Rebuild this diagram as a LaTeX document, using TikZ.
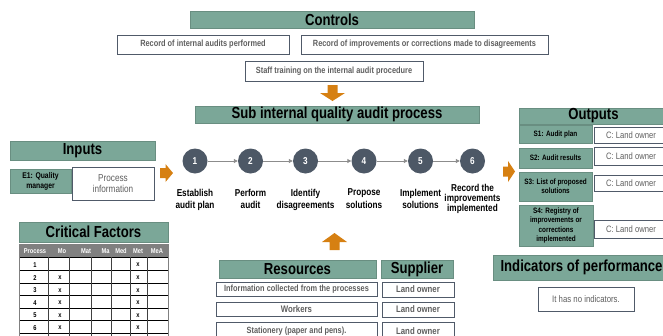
\documentclass[tikz,border=0pt]{standalone}
\usepackage{fontspec}
\setmainfont{Liberation Sans}[FakeStretch=0.82]
\usetikzlibrary{arrows.meta}
\definecolor{hdr}{RGB}{123,167,152}
\definecolor{bline}{RGB}{80,90,105}
\definecolor{txtg}{RGB}{95,95,95}
\definecolor{circ}{RGB}{77,88,102}
\definecolor{org}{RGB}{214,128,18}
\definecolor{thg}{RGB}{128,128,128}
\newcommand{\rbox}[7]{%
 \pgfmathsetmacro{\rbw}{#4-#2}\pgfmathsetmacro{\rbh}{#5-#3}%
 \pgfmathsetmacro{\rbx}{(#2+#4)/2}\pgfmathsetmacro{\rby}{(#3+#5)/2}%
 \node[#6, minimum width=\rbw pt, minimum height=\rbh pt] (#1) at (\rbx,\rby) {#7};}
\begin{document}
\begin{tikzpicture}[x=1pt,y=-1pt,
 hdrbox/.style={fill=hdr, draw=hdr!85!black, line width=0.4pt, inner sep=0pt, font=\fontsize{16}{17}\selectfont\bfseries},
 subbox/.style={fill=hdr, draw=hdr!85!black, line width=0.4pt, inner sep=0pt, align=center, font=\fontsize{7.8}{9.3}\selectfont\bfseries},
 wbox/.style={fill=white, draw=bline, line width=0.8pt, inner sep=0pt, align=center, text=txtg, font=\fontsize{9}{10}\selectfont\bfseries},
 cbox/.style={wbox, font=\fontsize{9.3}{10}\selectfont},
 stepc/.style={circle, fill=circ, minimum size=25pt, inner sep=0pt, text=white, font=\fontsize{10}{11}\selectfont\bfseries},
 steplbl/.style={anchor=north, align=center, inner sep=0pt, font=\fontsize{10}{12.5}\selectfont\bfseries},
 conn/.style={draw=gray!90, line width=0.9pt, -{Triangle[length=4pt,width=4pt]}},
 tcell/.style={inner sep=0pt, font=\fontsize{7}{7.5}\selectfont\bfseries},
 thead/.style={tcell, text=white},
]
\useasboundingbox (0,0) rectangle (663,335);

% Controls
\rbox{ctlh}{190}{11}{474}{28}{hdrbox}{Controls}
\rbox{ctl1}{117}{35}{289}{54}{wbox}{Record of internal audits performed}
\rbox{ctl2}{301}{35}{548}{54}{wbox}{Record of improvements or corrections made to disagreements}
\rbox{ctl3}{245}{61}{423}{81}{wbox}{Staff training on the internal audit procedure}
\fill[org] (327.5,85) -- (337.5,85) -- (337.5,93) -- (345,93) -- (332.5,101) -- (320,93) -- (327.5,93) -- cycle;

% Sub process
\rbox{subh}{195}{106}{479}{123}{hdrbox}{Sub internal quality audit process}

% Inputs
\rbox{inh}{10}{141}{155}{160}{hdrbox}{Inputs}
\rbox{e1}{10}{169}{71}{193}{subbox, font=\fontsize{8.3}{10}\selectfont\bfseries}{E1: Quality\\manager}
\rbox{pinf}{72}{167}{154}{200}{wbox, font=\fontsize{10}{11.5}\selectfont}{Process\\information}
\fill[org] (160,168) -- (165.5,168) -- (165.5,164) -- (173,173) -- (165.5,182) -- (165.5,178) -- (160,178) -- cycle;

% Steps
\node[stepc] (c1) at (195,161) {1};
\node[stepc] (c2) at (250.5,161) {2};
\node[stepc] (c3) at (305.5,161) {3};
\node[stepc] (c4) at (364,161) {4};
\node[stepc] (c5) at (420.5,161) {5};
\node[stepc] (c6) at (472.5,161) {6};
\draw[conn] (c1) -- (c2);
\draw[conn] (c2) -- (c3);
\draw[conn] (c3) -- (c4);
\draw[conn] (c4) -- (c5);
\draw[conn] (c5) -- (c6);
\node[steplbl] (l1) at (195,188.7) {Establish\\audit plan};
\node[steplbl] (l2) at (250.5,188.7) {Perform\\audit};
\node[steplbl] (l3) at (305.5,188.7) {Identify\\disagreements};
\node[steplbl] (l4) at (364,188.7) {Propose\\solutions};
\node[steplbl] (l5) at (420.5,188.7) {Implement\\solutions};
\node[steplbl, font=\fontsize{10}{10.3}\selectfont\bfseries] (l6) at (472.5,183.7) {Record the\\improvements\\implemented};

% Outputs
\fill[org] (503,166.5) -- (508,166.5) -- (508,161) -- (515,171.5) -- (508,182) -- (508,176.5) -- (503,176.5) -- cycle;
\rbox{outh}{519}{108}{668}{124}{hdrbox}{Outputs}
\rbox{s1}{519}{125}{592}{143}{subbox}{S1: Audit plan}
\rbox{o1}{594}{127}{668}{143}{cbox}{C: Land owner}
\rbox{s2}{519}{148}{592}{168}{subbox}{S2: Audit results}
\rbox{o2}{594}{147}{668}{165}{cbox}{C: Land owner}
\rbox{s3}{519}{172}{592}{201}{subbox}{S3: List of proposed\\solutions}
\rbox{o3}{594}{175}{668}{191}{cbox}{C: Land owner}
\rbox{s4}{519}{205}{593}{246}{subbox}{S4: Registry of\\improvements or\\corrections\\implemented}
\rbox{o4}{594}{220}{668}{238}{cbox}{C: Land owner}

% Indicators
\rbox{indh}{493}{255}{670}{280}{hdrbox, font=\fontsize{16}{17}\selectfont\bfseries}{Indicators of performance}
\rbox{noind}{538}{287}{634}{311}{wbox, font=\fontsize{9.5}{10}\selectfont}{It has no indicators.}

% Resources
\fill[org] (334.5,233) -- (347,242) -- (339.5,242) -- (339.5,250) -- (329.5,250) -- (329.5,242) -- (322,242) -- cycle;
\rbox{resh}{219}{260}{376}{278}{hdrbox}{Resources}
\rbox{suph}{381}{260}{453}{278}{hdrbox}{Supplier}
\rbox{r1}{216}{282}{377}{296}{wbox}{Information collected from the processes}
\rbox{p1}{382}{282}{454}{297}{wbox, font=\fontsize{9.5}{10}\selectfont\bfseries}{Land owner}
\rbox{r2}{216}{302}{377}{316}{wbox, font=\fontsize{9.5}{10}\selectfont\bfseries}{Workers}
\rbox{p2}{382}{302}{454}{317}{wbox, font=\fontsize{9.5}{10}\selectfont\bfseries}{Land owner}
\rbox{r3}{216}{322}{377}{345}{wbox}{}
\node[text=txtg, font=\fontsize{9}{10}\selectfont\bfseries] (r3t) at (r3.center |- 0,331) {Stationery (paper and pens).};
\rbox{p3}{382}{322}{454}{345}{wbox}{}
\node[text=txtg, font=\fontsize{9.5}{10}\selectfont\bfseries] (p3t) at (p3.center |- 0,331) {Land owner};

% Critical factors
\rbox{cfh}{19}{222}{168}{242}{hdrbox}{Critical Factors}
\fill[thg] (19,244) rectangle (168,257);
\fill[white] (19,257) rectangle (168,345);
\foreach \yy in {257,270.5,283,295.5,308,320.5,333}
  \draw[black, line width=1pt] (19,\yy) -- (168,\yy);
\foreach \xx in {48,69,91,111,130,147}
  \draw[black!75, line width=0.7pt] (\xx,257) -- (\xx,345);
\draw[gray, line width=0.8pt] (19,244) rectangle (168,345);
\node[thead] (th1) at (35,251) {Process};
\node[thead] (th2) at (62,251) {Mo};
\node[thead] (th3) at (86,251) {Mat};
\node[thead] (th4) at (105.5,251) {Ma};
\node[thead] (th5) at (121,251) {Med};
\node[thead] (th6) at (138,251) {Met};
\node[thead] (th7) at (157,251) {MeA};
\foreach \n/\yy in {1/264.7,2/277.7,3/290.2,4/302.7,5/315.2,6/327.8}
  \node[tcell] (rn\n) at (35,\yy) {\n};
\foreach \n/\yy in {2/277.7,3/290.2,4/302.7,5/315.2,6/327.8}
  \node[tcell] (mo\n) at (60,\yy) {x};
\foreach \n/\yy in {1/264.7,2/277.7,3/290.2,4/302.7,5/315.2,6/327.8}
  \node[tcell] (me\n) at (138,\yy) {x};
\end{tikzpicture}
\end{document}
